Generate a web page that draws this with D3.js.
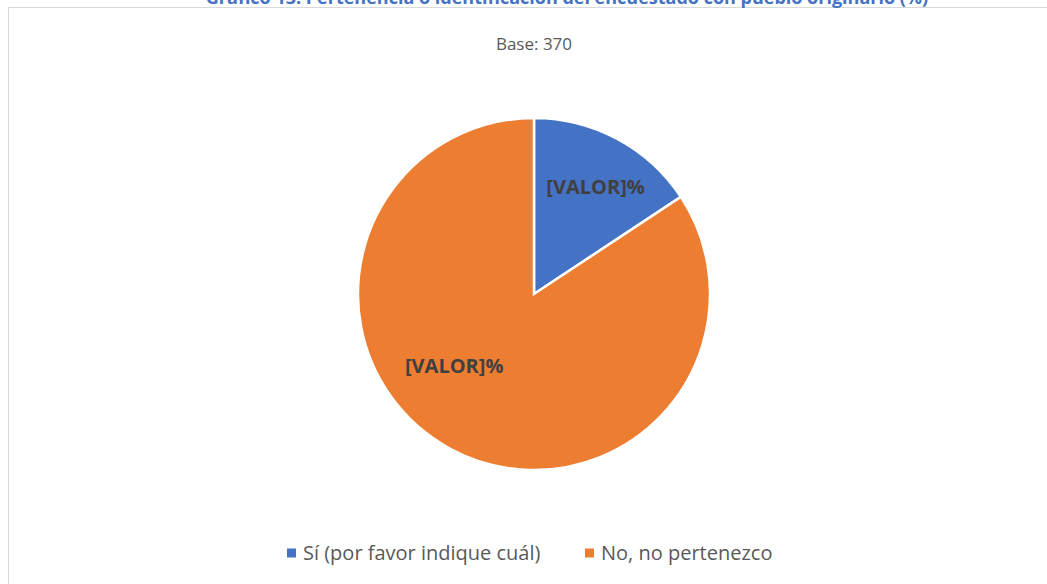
<!DOCTYPE html>
<html>
<head>
<meta charset="utf-8">
<script src="https://cdn.jsdelivr.net/npm/d3@7"></script>
<style>
  body { margin: 0; background: #fff; }
  svg { display: block; }
</style>
</head>
<body>
<svg width="1047" height="584"></svg>
<script>
var categories = ['Sí (por favor indique cuál)', 'No, no pertenezco'];
var values = [15.7, 84.3];
var labels = ['[VALOR]%', '[VALOR]%'];
var colors = ['#4472C4', '#ED7D31'];
var titleText = 'Gráfico 13: Pertenencia o identificación del encuestado con pueblo originario (%)';
var subtitleText = 'Base: 370';

var svg = d3.select('svg');
var svgWidth = +svg.attr('width');
var svgHeight = +svg.attr('height');

// chart frame (runs off the right and bottom edges)
svg.append('rect')
    .attr('x', 8.5)
    .attr('y', 7.5)
    .attr('width', svgWidth + 10)
    .attr('height', svgHeight + 10)
    .style('fill', '#fff')
    .style('stroke', '#d9d9d9')
    .style('stroke-width', 1);

// title, only its lower part shows above the frame
svg.append('text')
    .attr('x', 567)
    .attr('y', 4)
    .attr('text-anchor', 'middle')
    .style('font-family', 'Open Sans, sans-serif')
    .style('font-weight', 'bold')
    .style('font-size', '18px')
    .style('fill', '#4472C4')
    .text(titleText);

svg.append('text')
    .attr('x', 534)
    .attr('y', 50)
    .attr('text-anchor', 'middle')
    .style('font-family', 'Open Sans, sans-serif')
    .style('font-size', '17px')
    .style('fill', '#595959')
    .text(subtitleText);

var cx = 534, cy = 294, radius = 176;

var pie = d3.pie().sort(null).value(function(d) { return d; });
var arc = d3.arc().innerRadius(0).outerRadius(radius);

// label placement (best-fit style): angle in degrees from 12 o'clock, radius fraction
var labelPlace = [[30, 0.70], [228, 0.61]];

var g = svg.append('g')
    .attr('transform', 'translate(' + [cx, cy] + ')');

var slices = g.selectAll('.slice')
    .data(pie(values))
    .enter()
    .append('g')
    .attr('class', 'slice');

slices.append('path')
    .attr('d', arc)
    .style('fill', function(d, i) { return colors[i]; })
    .style('stroke', '#fff')
    .style('stroke-width', 2.5);

slices.append('text')
    .attr('transform', function(d, i) {
        var a = labelPlace[i][0] * Math.PI / 180;
        var r = labelPlace[i][1] * radius;
        return 'translate(' + [r * Math.sin(a), -r * Math.cos(a)] + ')';
    })
    .attr('text-anchor', 'middle')
    .attr('dy', '0.35em')
    .style('font-family', 'Open Sans, sans-serif')
    .style('font-weight', 'bold')
    .style('font-size', '20px')
    .style('fill', '#404040')
    .text(function(d, i) { return labels[i]; });

// legend
var legendX = [287, 585];
var legend = svg.selectAll('.legend')
    .data(categories)
    .enter()
    .append('g')
    .attr('class', 'legend')
    .attr('transform', function(d, i) { return 'translate(' + [legendX[i], 553] + ')'; });

legend.append('rect')
    .attr('x', 0)
    .attr('y', -4.5)
    .attr('width', 9)
    .attr('height', 9)
    .style('fill', function(d, i) { return colors[i]; });

legend.append('text')
    .attr('x', 16)
    .attr('y', 0)
    .attr('dy', '0.35em')
    .style('font-family', 'Open Sans, sans-serif')
    .style('font-size', '20px')
    .style('fill', '#595959')
    .text(function(d) { return d; });
</script>
</body>
</html>
